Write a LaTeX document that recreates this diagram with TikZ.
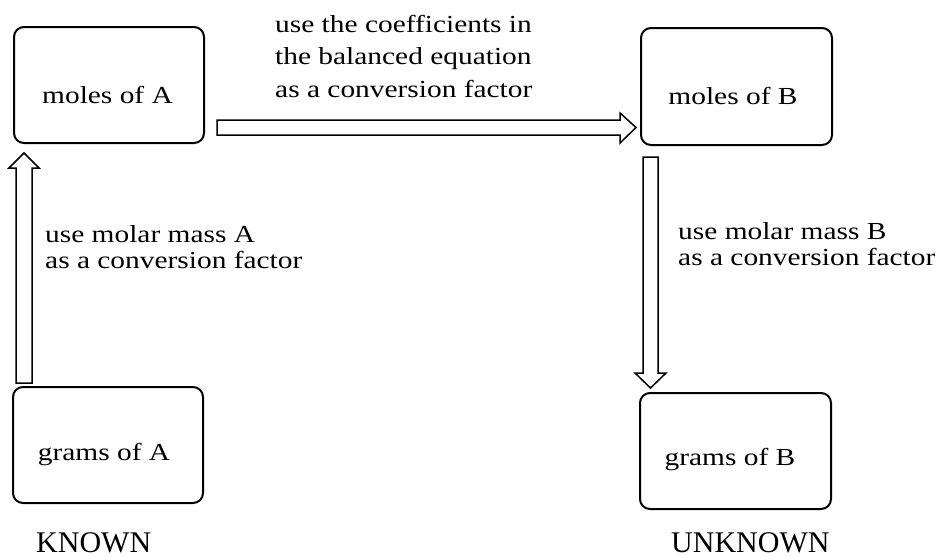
\documentclass[tikz,border=0pt]{standalone}
\usepackage{fontspec}
\setmainfont{Liberation Serif}
\usepackage{graphicx}
\newcommand{\wide}[1]{\scalebox{1.2}[1]{#1}}
\begin{document}
\begin{tikzpicture}[x=1pt,y=-1pt,
  box/.style={draw, line width=2pt, rounded corners=10pt, inner sep=0pt},
  blockarrow/.style={draw, line width=1.5pt, fill=white, line join=miter},
  lbl/.style={inner sep=0pt, font=\fontsize{24.5}{26}\selectfont, anchor=base},
  note/.style={inner sep=0pt, anchor=base west},
  big/.style={inner sep=0pt, font=\fontsize{30}{32}\selectfont, anchor=base west}]
\useasboundingbox (0,0) rectangle (941,557);
% boxes
\node[box, minimum width=190pt, minimum height=116pt] (mA) at (109,85) {};
\node[box, minimum width=191pt, minimum height=117pt] (mB) at (736.5,86.5) {};
\node[box, minimum width=190pt, minimum height=116pt] (gA) at (108,445) {};
\node[box, minimum width=191pt, minimum height=116pt] (gB) at (735.5,451) {};
% box labels
\node[lbl] (tmA) at (107.5,103) {\wide{moles of A}};
\node[lbl] (tmB) at (733,104) {\wide{moles of B}};
\node[lbl] (tgA) at (104,460) {\wide{grams of A}};
\node[lbl] (tgB) at (730,465) {\wide{grams of B}};
% block arrows
\draw[blockarrow] (16,383) -- (16,168) -- (9,168) -- (24,153) -- (39,168) -- (32,168) -- (32,383) -- cycle;
\draw[blockarrow] (217,120) -- (620,120) -- (620,113) -- (636,127.5) -- (620,143) -- (620,135) -- (217,135) -- cycle;
\draw[blockarrow] (643,157) -- (643,373) -- (635,373) -- (650.5,388) -- (666,373) -- (658,373) -- (658,157) -- cycle;
% notes
\node[note, font=\fontsize{24.5}{32.5}\selectfont] (top) at (275,32) {\wide{\begin{tabular}[t]{@{}l@{}}use the coefficients in\\the balanced equation\\as a conversion factor\end{tabular}}};
\node[note, font=\fontsize{24.5}{26}\selectfont] (left) at (45,242) {\wide{\begin{tabular}[t]{@{}l@{}}use molar mass A\\as a conversion factor\end{tabular}}};
\node[note, font=\fontsize{24.5}{26}\selectfont] (right) at (678,239) {\wide{\begin{tabular}[t]{@{}l@{}}use molar mass B\\as a conversion factor\end{tabular}}};
\node[big] (known) at (36,552) {KNOWN};
\node[big] (unknown) at (671,552) {UNKNOWN};
\end{tikzpicture}
\end{document}
